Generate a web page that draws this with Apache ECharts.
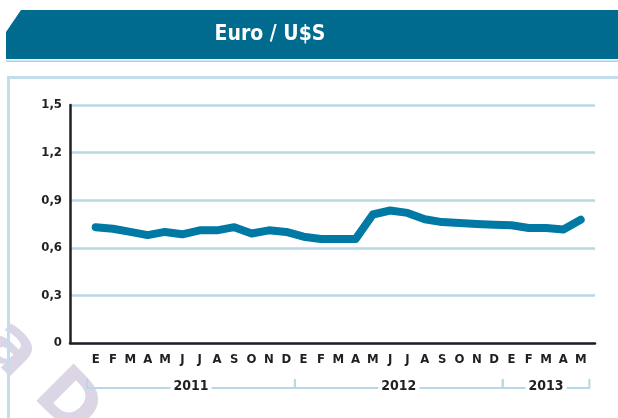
<!DOCTYPE html>
<html>
<head>
<meta charset="utf-8">
<script src="https://cdn.jsdelivr.net/npm/echarts@6/dist/echarts.min.js"></script>
<style>
html,body{margin:0;padding:0;background:#fff;}
#c{width:618px;height:418px;}
</style>
</head>
<body>
<div id="c"></div>
<script>
const title = 'Euro / U$S';
const months = ['E','F','M','A','M','J','J','A','S','O','N','D',
                'E','F','M','A','M','J','J','A','S','O','N','D',
                'E','F','M','A','M'];
const values = [0.73,0.72,0.70,0.68,0.70,0.685,0.71,0.71,0.73,0.69,0.71,0.70,
                0.67,0.655,0.655,0.655,0.81,0.835,0.82,0.78,0.762,0.756,0.75,0.745,
                0.742,0.725,0.725,0.716,0.777];
const years = ['2011','2012','2013'];
const yearMonthCounts = [12,12,5];
const yTicks = {min:0, max:1.5, interval:0.3};

const LABEL = '#231f20';
const GRIDC = '#b8d7e7';
const LINEC = '#0079a4';
const FONT = '"DejaVu Sans Condensed","Open Sans",sans-serif';

const chart = echarts.init(document.getElementById('c'), null, {renderer:'canvas'});
const option = {
  animation:false,
  backgroundColor:'#fff',
  grid:[
    {left:70, right:23, top:105, bottom:75},
    {left:95.7, right:37.3, top:105, bottom:75}
  ],
  xAxis:[
    {gridIndex:0, type:'value', min:0, max:1,
     axisLine:{show:true, lineStyle:{color:'#231f20', width:2.5}},
     axisTick:{show:false}, axisLabel:{show:false}, splitLine:{show:false}},
    {gridIndex:1, type:'category', data:months, boundaryGap:false,
     axisLine:{show:false}, axisTick:{show:false}, splitLine:{show:false},
     axisLabel:{interval:0, margin:10, color:LABEL, fontWeight:'bold', fontSize:13, fontFamily:FONT}}
  ],
  yAxis:[
    {gridIndex:0, type:'value', min:yTicks.min, max:yTicks.max, interval:yTicks.interval,
     axisLine:{show:true, lineStyle:{color:'#231f20', width:2.5}},
     axisTick:{show:false},
     axisLabel:{margin:8, color:LABEL, fontWeight:'bold', fontSize:13, fontFamily:FONT,
       formatter:v => v===0 ? '0' : v.toFixed(1).replace('.',',')},
     splitLine:{show:true, lineStyle:{color:GRIDC, width:2.5}}},
    {gridIndex:1, type:'value', min:yTicks.min, max:yTicks.max, interval:yTicks.interval, show:false}
  ],
  series:[
    {type:'line', xAxisIndex:1, yAxisIndex:1, data:values, symbol:'none',
     lineStyle:{color:LINEC, width:8, cap:'round', join:'round'}, z:5}
  ]
};
chart.setOption(option);

// decorations computed from axes
const px = i => chart.convertToPixel({xAxisIndex:1}, i);
const step = px(1) - px(0);
const y0 = chart.convertToPixel({yAxisIndex:0}, 0);
const by = y0 + 45;
const els = [];
// faint watermark letters
els.push({type:'text', x:10, y:350, rotation:-Math.PI/4, z:0, style:{text:'a', fill:'#dbd5e5', font:'bold 72px "DejaVu Sans",sans-serif', textAlign:'center', textVerticalAlign:'middle'}, silent:true});
els.push({type:'text', x:66, y:404, rotation:-Math.PI/4, z:0, style:{text:'D', fill:'#dbd5e5', font:'bold 72px "DejaVu Sans",sans-serif', textAlign:'center', textVerticalAlign:'middle'}, silent:true});
// banner
els.push({type:'polygon', z:10, shape:{points:[[6,32],[21,10],[618,10],[618,59],[6,59]]}, style:{fill:'#006a8f'}, silent:true});
els.push({type:'rect', z:10, shape:{x:6,y:60.5,width:612,height:1.5}, style:{fill:'#a9cfe0'}, silent:true});
els.push({type:'text', z:11, x:270, y:35, style:{text:title, fill:'#fff', font:'bold 21px '+FONT, textAlign:'center', textVerticalAlign:'middle'}, silent:true});
// frame
els.push({type:'polyline', z:10, shape:{points:[[8.5,418],[8.5,77.5],[618,77.5]]}, style:{stroke:'#c2deec', lineWidth:3, fill:null}, silent:true});
// year brackets
let start = 0;
yearMonthCounts.forEach((n, k) => {
  const a = px(start) - step/2;
  const b = px(start + n - 1) + step/2;
  els.push({type:'polyline', z:10, shape:{points:[[a, by-9],[a, by],[b, by],[b, by-9]]}, style:{stroke:GRIDC, lineWidth:2, fill:null}, silent:true});
  els.push({type:'text', z:11, x:(a+b)/2, y:by-2, style:{text:years[k], fill:LABEL, font:'bold 14px '+FONT, textAlign:'center', textVerticalAlign:'middle', backgroundColor:'#fff', padding:[0,3]}, silent:true});
  start += n;
});
chart.setOption({graphic:{elements:els}});
</script>
</body>
</html>
